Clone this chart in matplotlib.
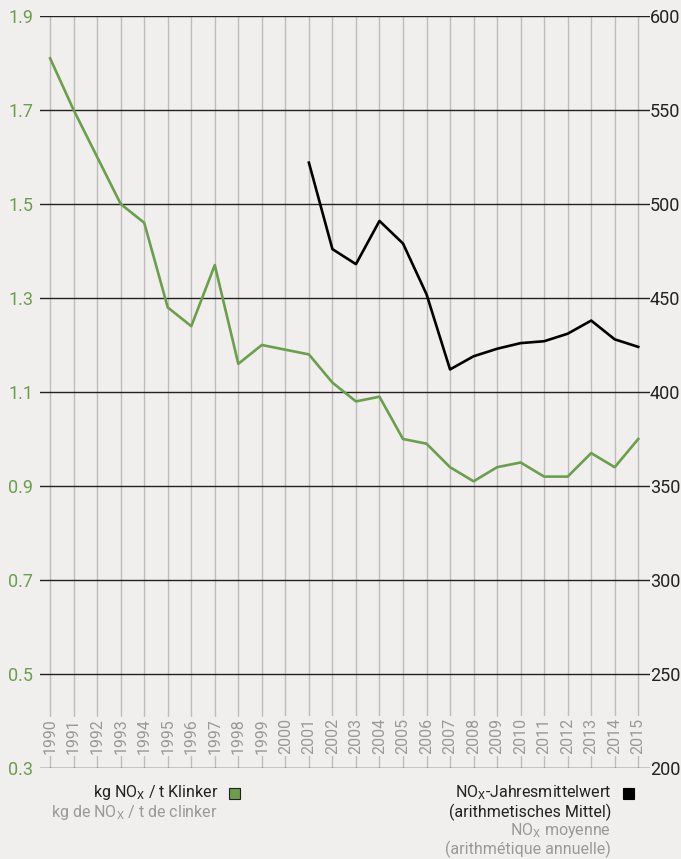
import matplotlib
matplotlib.use("Agg")
import matplotlib.pyplot as plt

plt.rcParams['font.family'] = ['Roboto', 'DejaVu Sans']
plt.rcParams['mathtext.fontset'] = 'custom'
plt.rcParams['mathtext.rm'] = 'Roboto'

years = list(range(1990, 2016))
kg_per_t = [1.81, 1.70, 1.60, 1.50, 1.46, 1.28, 1.24, 1.37, 1.16, 1.20,
            1.19, 1.18, 1.12, 1.08, 1.09, 1.00, 0.99, 0.94, 0.91, 0.94,
            0.95, 0.92, 0.92, 0.97, 0.94, 1.00]
mean_years = list(range(2001, 2016))
mean_nox = [522, 476, 468, 491, 479, 452, 412, 419, 423, 426, 427, 431, 438, 428, 424]
left_ticks = [0.3, 0.5, 0.7, 0.9, 1.1, 1.3, 1.5, 1.7, 1.9]
right_ticks = [200, 250, 300, 350, 400, 450, 500, 550, 600]

bg = '#f0efed'
green = '#6a9f4c'

fig = plt.figure(figsize=(6.81, 8.59), dpi=100, facecolor=bg)
ax = fig.add_axes([40/681, 1-768/859, 610/681, 752/859], facecolor=bg)
ax.set_xlim(1989.57, 2015.5)
ax.set_ylim(0.3, 1.9)
for s in ax.spines.values():
    s.set_visible(False)

# vertical year grid
for y in years:
    ax.axvline(y, color='#bdbcba', lw=1, zorder=1)
# horizontal lines
for t in left_ticks:
    ax.axhline(t, color='#222222', lw=1, zorder=2)

ax.set_yticks(left_ticks)
ax.set_yticklabels([f'{t:.1f}' for t in left_ticks])
ax.tick_params(axis='y', length=0, pad=5, labelcolor=green, labelsize=13)
ax.set_xticks([])

ax2 = ax.twinx()
ax2.set_ylim(200, 600)
ax2.set_yticks(right_ticks)
ax2.tick_params(axis='y', length=0, pad=0, labelcolor='#222222', labelsize=13)
for s in ax2.spines.values():
    s.set_visible(False)

# year labels
for y in years:
    ax.annotate(str(y), xy=(y, 0.3), xytext=(0, 10), textcoords='offset points',
                rotation=90, ha='center', va='bottom', color='#999999', fontsize=11.5,
                bbox=dict(boxstyle='square,pad=0.1', fc=bg, ec='none'), zorder=3)

ax.plot(years, kg_per_t, color=green, lw=1.9, zorder=4)
ax2.plot(mean_years, mean_nox, color='black', lw=1.9, zorder=4)

# legend texts
fig.text(218/681, 1-793/859, 'kg NO$_\\mathrm{X}$ / t Klinker', ha='right', va='center',
         fontsize=11.5, color='#222222')
fig.text(218/681, 1-812/859, 'kg de NO$_\\mathrm{X}$ / t de clinker', ha='right', va='center',
         fontsize=11.5, color='#999999')
fig.patches.append(plt.Rectangle((229/681, 1-799/859), 11/681, 11/859, transform=fig.transFigure,
                                 fc=green, ec='#222222', lw=0.8))

fig.text(611/681, 1-793/859, 'NO$_\\mathrm{X}$-Jahresmittelwert', ha='right', va='center',
         fontsize=11.5, color='#222222')
fig.text(611/681, 1-812/859, '(arithmetisches Mittel)', ha='right', va='center',
         fontsize=11.5, color='#222222')
fig.text(611/681, 1-830/859, 'NO$_\\mathrm{X}$ moyenne', ha='right', va='center',
         fontsize=11.5, color='#999999')
fig.text(611/681, 1-849/859, '(arithmétique annuelle)', ha='right', va='center',
         fontsize=11.5, color='#999999')
fig.patches.append(plt.Rectangle((623/681, 1-799/859), 11/681, 11/859, transform=fig.transFigure,
                                 fc='black', ec='black', lw=0.8))

fig.savefig('out.png', dpi=100, facecolor=bg)
